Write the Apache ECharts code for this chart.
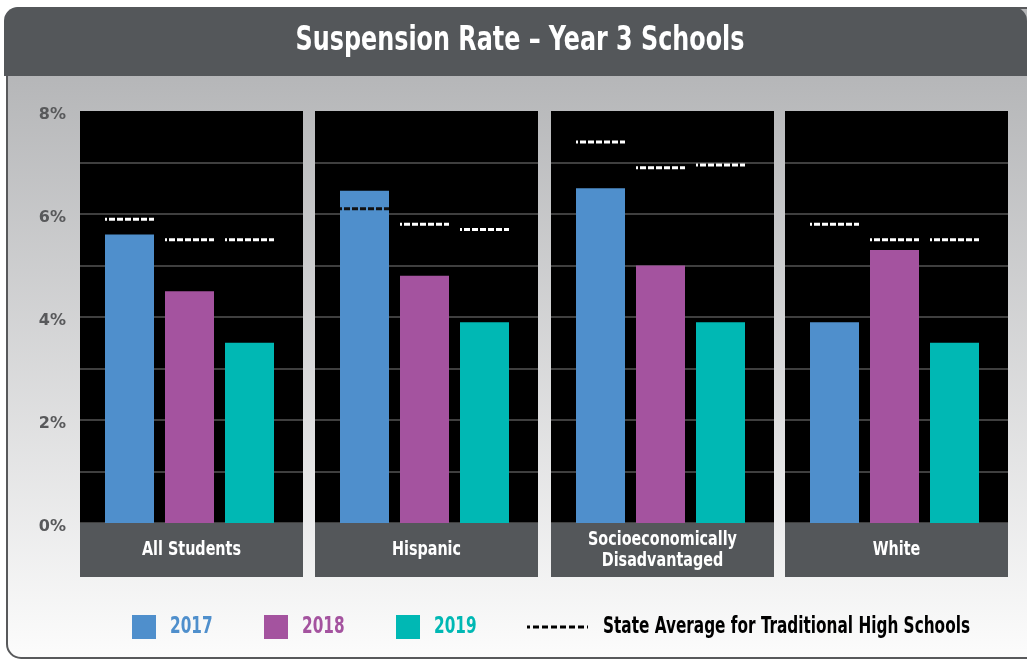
<!DOCTYPE html>
<html>
<head>
<meta charset="utf-8">
<script src="https://cdn.jsdelivr.net/npm/echarts@6/dist/echarts.min.js"></script>
<style>
  html, body { margin: 0; padding: 0; background: #fff; }
  #main { width: 1027px; height: 660px; }
</style>
</head>
<body>
<div id="main"></div>
<script>
// data (percent)
const groups = ['All Students', 'Hispanic', 'Socioeconomically\nDisadvantaged', 'White'];
const years = ['2017', '2018', '2019'];
const rate2017 = [5.6, 6.45, 6.5, 3.9];
const rate2018 = [4.5, 4.8, 5.0, 5.3];
const rate2019 = [3.5, 3.9, 3.9, 3.5];
const state2017 = [5.9, 6.1, 7.4, 5.8];
const state2018 = [5.5, 5.8, 6.9, 5.5];
const state2019 = [5.5, 5.7, 6.95, 5.5];
const yTicks = ['0%', '2%', '4%', '6%', '8%'];
const stateName = 'State Average for Traditional High Schools';
const titleText = 'Suspension Rate \u2013 Year 3 Schools';

const rates = [rate2017, rate2018, rate2019];
const states = [state2017, state2018, state2019];
const colors = ['#4f8fcc', '#a4539f', '#00b8b4'];
const NARROW = "'DejaVu Sans Condensed', 'DejaVu Sans', sans-serif";

// layout
const panelLeft = [80, 315, 551, 785];
const panelW = 223, plotTop = 111, plotH = 412;
const barW = 49;

// the original uses a very condensed face; squeeze text horizontally to fit
const mctx = document.createElement('canvas').getContext('2d');
function squeeze(text, size, target) {
  mctx.font = 'bold ' + size + 'px ' + NARROW;
  return Math.min(1, target / mctx.measureText(text).width);
}
const titleScale = squeeze(titleText, 34, 449);
const catScale = squeeze('All Students', 19, 99);
const legScale = squeeze(stateName, 23, 367);

const chart = echarts.init(document.getElementById('main'));

const grid = [], xAxis = [], yAxis = [], series = [], graphic = [];

// outer frame + title bar
graphic.push({
  type: 'rect', z: -10,
  shape: { x: 7, y: 8, width: 1040, height: 650, r: 14 },
  style: {
    fill: new echarts.graphic.LinearGradient(0, 0, 0, 1, [
      { offset: 0.1, color: '#b5b6b8' },
      { offset: 1, color: '#fcfcfc' }
    ]),
    stroke: '#58595b', lineWidth: 2
  }
});
graphic.push({
  type: 'rect', z: -9,
  shape: { x: 4, y: 7, width: 1023, height: 69, r: [14, 14, 0, 0] },
  style: { fill: '#54575a' }
});
graphic.push({
  type: 'text', z: 12, x: 520, y: 41, scaleX: titleScale,
  style: {
    text: titleText, fill: '#fff', fontSize: 34, fontWeight: 'bold', fontFamily: NARROW,
    align: 'center', verticalAlign: 'middle'
  }
});

panelLeft.forEach((l, k) => {
  // black panel with grid lines
  grid.push({ left: l, top: plotTop, width: panelW, height: plotH, show: true, backgroundColor: '#000', borderWidth: 0 });
  xAxis.push({ gridIndex: k, type: 'category', data: years, show: false });
  yAxis.push({
    gridIndex: k, type: 'value', min: 0, max: 8, interval: 1,
    axisLine: { show: false }, axisTick: { show: false },
    axisLabel: {
      show: k === 0, margin: 14, color: '#58595b', fontSize: 16, fontWeight: 'bold',
      fontFamily: 'DejaVu Sans', verticalAlign: 'top', lineHeight: 8,
      formatter: v => (v % 2 === 0 ? yTicks[v / 2] : '')
    },
    splitLine: { showMaxLine: false, lineStyle: { color: '#555', width: 1.5 } }
  });

  // category label box
  graphic.push({
    type: 'rect', z: 10,
    shape: { x: l, y: plotTop + plotH, width: panelW, height: 54 },
    style: { fill: '#54575a' }
  });
  graphic.push({
    type: 'text', z: 11, x: l + panelW / 2, y: plotTop + plotH + 27.5, scaleX: catScale,
    style: {
      text: groups[k], fill: '#fff', fontSize: 19, fontWeight: 'bold', fontFamily: NARROW,
      align: 'center', verticalAlign: 'middle', lineHeight: 21
    }
  });
});

panelLeft.forEach((l, k) => {
  // bar grid (narrower so bars sit 60px apart)
  const gi = 4 + k;
  grid.push({ left: l + 19.5, top: plotTop, width: 180, height: plotH });
  xAxis.push({ gridIndex: gi, type: 'category', data: years, show: false });
  yAxis.push({ gridIndex: gi, type: 'value', min: 0, max: 8, show: false });

  years.forEach((y, j) => {
    series.push({
      type: 'bar', name: y, xAxisIndex: gi, yAxisIndex: gi,
      barWidth: barW, barGap: '-100%',
      itemStyle: { color: colors[j] },
      data: [[j, rates[j][k]]]
    });
  });

  series.push({
    type: 'custom', name: stateName, xAxisIndex: gi, yAxisIndex: gi, z: 5,
    itemStyle: { color: '#000' },
    encode: { x: 0, y: 1 },
    data: years.map((y, j) => [j, states[j][k], rates[j][k]]),
    renderItem: (params, api) => {
      const p = api.coord([api.value(0), api.value(1)]);
      const onBar = api.value(1) < api.value(2);
      return {
        type: 'line',
        shape: { x1: p[0] - barW / 2, y1: p[1], x2: p[0] + barW / 2, y2: p[1] },
        style: { stroke: onBar ? '#111' : '#fff', lineWidth: 3, lineDash: [6, 2], lineDashOffset: 4 }
      };
    }
  });
});

// legend
const legX = [132, 264, 396];
years.forEach((y, j) => {
  graphic.push({
    type: 'rect', shape: { x: legX[j], y: 615, width: 24, height: 24 },
    style: { fill: colors[j] }
  });
  graphic.push({
    type: 'text', x: legX[j] + 38, y: 627, scaleX: legScale,
    style: {
      text: y, fill: colors[j], fontSize: 23, fontWeight: 'bold', fontFamily: NARROW,
      align: 'left', verticalAlign: 'middle'
    }
  });
});
graphic.push({
  type: 'line', shape: { x1: 527, y1: 627, x2: 588, y2: 627 },
  style: { stroke: '#000', lineWidth: 3, lineDash: [6, 3], lineDashOffset: 3 }
});
graphic.push({
  type: 'text', x: 603, y: 627, scaleX: legScale,
  style: {
    text: stateName, fill: '#000', fontSize: 23, fontWeight: 'bold', fontFamily: NARROW,
    align: 'left', verticalAlign: 'middle'
  }
});

const option = {
  animation: false,
  grid: grid,
  xAxis: xAxis,
  yAxis: yAxis,
  series: series,
  graphic: graphic
};

chart.setOption(option);
</script>
</body>
</html>
